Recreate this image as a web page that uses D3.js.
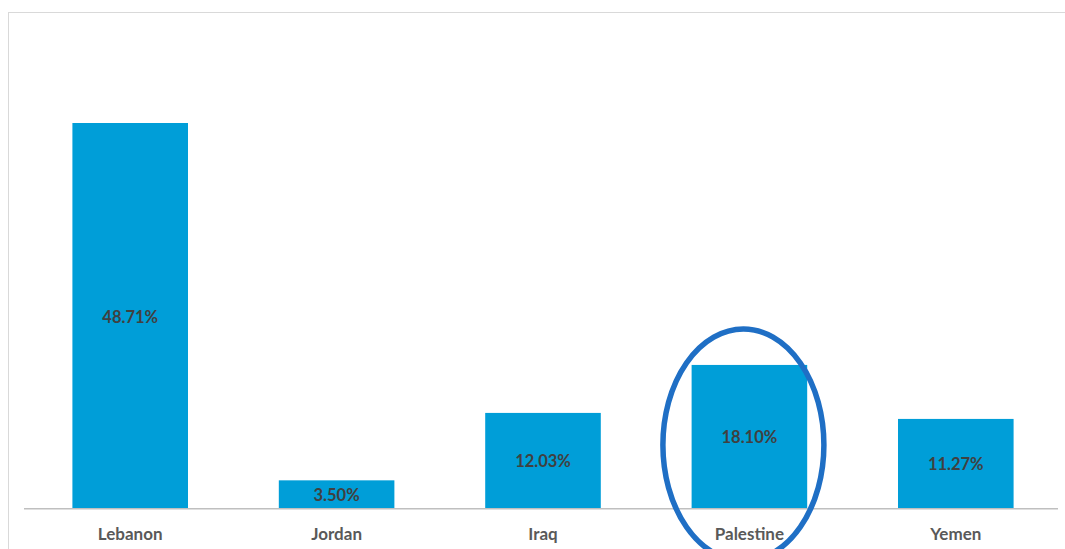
<!DOCTYPE html>
<html>
<head>
<meta charset="utf-8">
<script src="https://cdn.jsdelivr.net/npm/d3@7"></script>
<style>
  body { margin: 0; background: #fff; }
  svg { display: block; }
  text { font-family: 'Lato', 'DejaVu Sans', sans-serif; font-weight: bold; }
</style>
</head>
<body>
<svg width="1065" height="549"></svg>
<script>
var countries = ['Lebanon', 'Jordan', 'Iraq', 'Palestine', 'Yemen']
var shares = [48.71, 3.50, 12.03, 18.10, 11.27]
var highlight = 'Palestine'

var data = countries.map(function (c, i) {
  return { name: c, v: shares[i] }
})

var svg = d3.select('svg')

// chart frame, cut off at right and bottom
svg.append('rect')
  .attr('x', 8.5)
  .attr('y', 12.5)
  .attr('width', 1100)
  .attr('height', 600)
  .style('fill', 'none')
  .style('stroke', '#d9d9d9')

var base = 508

var x = d3.scaleBand()
  .domain(countries)
  .range([27, 1059])
  .paddingInner(0.44)
  .paddingOuter(0.22)

var y = d3.scaleLinear()
  .domain([0, 48.71])
  .range([base, 123])

svg.selectAll('.bar')
  .data(data)
  .enter()
  .append('rect')
  .attr('class', 'bar')
  .attr('x', function (d) { return x(d.name) })
  .attr('y', function (d) { return y(d.v) })
  .attr('width', x.bandwidth())
  .attr('height', function (d) { return base - y(d.v) })
  .style('fill', '#009ed8')

// axis line
svg.append('line')
  .attr('x1', 24)
  .attr('x2', 1058)
  .attr('y1', base + 0.75)
  .attr('y2', base + 0.75)
  .style('stroke', '#bfbfbf')
  .style('stroke-width', 1.5)

svg.selectAll('.val')
  .data(data)
  .enter()
  .append('text')
  .attr('class', 'val')
  .attr('x', function (d) { return x(d.name) + x.bandwidth() / 2 })
  .attr('y', function (d) { return (y(d.v) + base) / 2 + 7 })
  .attr('text-anchor', 'middle')
  .style('font-size', '16.5px')
  .style('fill', '#404040')
  .text(function (d) { return d.v.toFixed(2) + '%' })

svg.selectAll('.cat')
  .data(data)
  .enter()
  .append('text')
  .attr('class', 'cat')
  .attr('x', function (d) { return x(d.name) + x.bandwidth() / 2 })
  .attr('y', 540)
  .attr('text-anchor', 'middle')
  .style('font-size', '17px')
  .style('fill', '#595959')
  .text(function (d) { return d.name })

// highlight ring round Palestine
var hx = x(highlight) + x.bandwidth() / 2 - 6
svg.append('ellipse')
  .attr('cx', hx)
  .attr('cy', 445)
  .attr('rx', 80.5)
  .attr('ry', 116)
  .style('fill', 'none')
  .style('stroke', '#1f6fc5')
  .style('stroke-width', 5.5)
</script>
</body>
</html>
